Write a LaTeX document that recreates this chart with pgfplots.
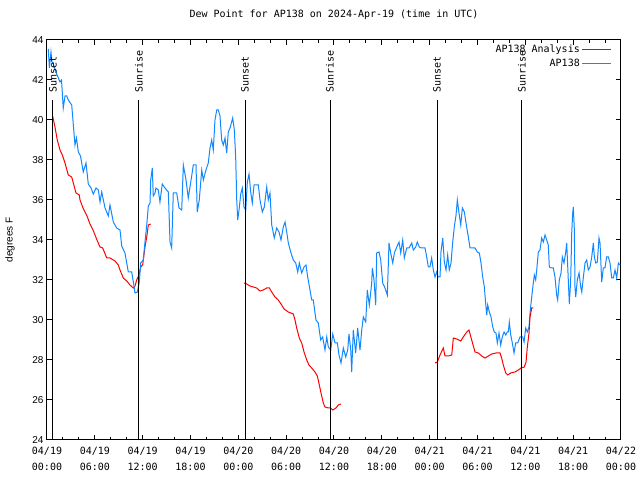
\documentclass[border=0pt]{standalone}
\usepackage{fontspec}
\usepackage{pgfplots}
\usepackage{pgfplotstable}
\pgfplotsset{compat=1.18}
\setmainfont{DejaVu Sans Mono}
\newfontfamily\lsans{Liberation Sans}
\definecolor{apblue}{RGB}{17,136,255}
\definecolor{apred}{RGB}{255,0,0}

\pgfplotstableread{
h v
0.16 43.55
0.30 42.60
0.50 43.40
0.63 42.90
0.79 42.80
1.22 42.30
1.63 41.90
1.82 42.00
2.04 40.60
2.26 41.20
2.47 41.20
2.67 41.00
3.10 40.75
3.51 38.75
3.70 39.10
3.93 38.40
4.20 38.20
4.55 37.40
4.89 37.85
5.18 36.80
5.52 36.60
5.81 36.30
6.15 36.60
6.44 36.50
6.65 35.90
6.86 36.40
7.28 35.60
7.69 35.20
7.90 35.75
8.32 34.90
8.74 34.60
9.16 34.50
9.37 33.70
9.78 33.35
10.20 32.40
10.62 32.40
10.83 31.90
11.04 31.35
11.33 31.40
11.58 31.90
11.75 32.85
12.08 33.00
12.29 33.90
12.51 34.75
12.71 35.70
12.92 35.85
13.01 37.00
13.21 37.60
13.33 36.20
13.55 36.35
13.67 36.60
13.96 36.50
14.17 35.90
14.46 36.80
14.80 36.60
15.22 36.40
15.43 33.90
15.64 33.60
15.84 36.35
16.27 36.35
16.56 35.60
16.90 35.50
17.10 37.75
17.44 37.00
17.72 36.10
18.15 37.20
18.35 37.75
18.69 37.75
18.85 35.40
19.10 36.00
19.41 37.50
19.61 37.00
19.94 37.50
20.23 37.85
20.45 38.60
20.66 39.00
20.86 38.50
21.07 40.00
21.29 40.50
21.49 40.50
21.70 40.20
21.91 39.00
22.12 38.75
22.33 39.10
22.54 38.35
22.74 39.40
22.96 39.60
23.29 40.10
23.50 39.50
23.67 38.10
23.80 36.00
23.92 35.00
24.09 35.50
24.30 36.30
24.50 36.60
24.71 35.65
24.93 35.50
25.13 36.90
25.34 37.30
25.55 36.40
25.75 35.85
25.97 36.75
26.51 36.75
26.72 36.00
27.01 35.40
27.26 35.65
27.56 36.65
27.76 36.00
27.97 36.35
28.19 34.75
28.51 34.10
28.81 34.60
29.10 34.40
29.35 34.00
29.64 34.65
29.86 34.90
30.07 34.40
30.27 33.85
30.61 33.35
30.90 33.00
31.20 32.85
31.45 32.40
31.65 32.85
31.95 32.35
32.24 32.65
32.49 32.75
32.70 32.15
32.99 31.50
33.20 31.00
33.40 31.00
33.74 30.00
34.03 29.85
34.33 29.00
34.58 29.15
34.87 28.50
35.09 29.15
35.29 28.65
35.59 28.50
35.84 29.30
36.13 28.85
36.42 28.85
36.63 28.25
36.88 27.85
37.17 28.60
37.47 28.15
37.72 28.50
37.88 29.30
38.10 28.50
38.22 27.40
38.42 29.50
38.72 28.35
38.97 29.60
39.26 28.50
39.48 29.50
39.68 30.15
39.98 29.90
40.18 31.50
40.43 30.75
40.73 31.85
40.81 32.60
41.02 32.00
41.23 30.75
41.36 33.35
41.65 33.40
41.86 33.00
42.11 31.85
42.40 31.60
42.69 31.25
42.90 33.85
43.11 33.35
43.37 32.85
43.57 33.35
43.87 33.65
44.16 33.90
44.37 33.35
44.62 34.00
44.82 33.10
45.12 33.60
45.41 33.60
45.75 33.85
45.95 33.50
46.25 33.65
46.45 33.90
46.70 33.65
47.00 33.60
47.42 33.60
47.63 33.15
47.83 32.65
48.04 32.65
48.25 33.10
48.46 32.50
48.67 32.15
48.88 32.40
49.08 32.15
49.30 32.15
49.42 33.40
49.64 34.10
49.84 32.90
50.05 32.50
50.26 33.25
50.46 32.50
50.68 32.85
50.89 33.90
51.09 34.65
51.31 35.25
51.47 36.00
51.68 35.35
51.90 34.75
52.10 35.60
52.35 35.40
52.56 34.85
52.85 34.15
53.06 33.60
53.69 33.60
53.98 33.40
54.23 33.35
54.44 32.85
54.65 32.15
54.86 31.65
55.03 30.80
55.16 30.25
55.28 30.75
55.48 30.40
55.70 30.15
55.91 29.65
56.11 29.40
56.32 29.35
56.49 28.85
56.70 29.35
56.91 28.75
57.11 29.15
57.33 29.40
57.54 29.25
57.74 29.40
57.87 29.40
57.99 29.90
58.17 29.25
58.37 28.85
58.58 28.35
58.79 28.85
59.04 28.85
59.33 29.15
59.67 29.15
59.84 28.90
60.05 29.60
60.25 29.40
60.46 29.65
60.59 30.35
60.80 31.15
61.00 31.85
61.13 32.25
61.30 32.00
61.43 32.50
61.63 33.40
61.84 33.50
62.05 34.10
62.26 33.90
62.47 34.25
62.68 34.00
62.88 33.75
63.01 32.65
63.31 32.60
63.51 32.60
63.72 32.15
63.93 31.25
64.06 31.00
64.26 32.00
64.48 32.35
64.64 33.15
64.85 32.85
65.07 33.40
65.19 33.85
65.39 32.00
65.52 30.80
65.69 32.00
65.82 34.35
65.94 35.35
66.02 35.65
66.15 34.50
66.23 31.65
66.32 31.15
66.52 32.00
66.74 32.35
66.95 31.65
67.08 31.40
67.28 32.15
67.49 32.85
67.70 33.00
67.90 32.50
68.12 32.65
68.33 33.15
68.53 33.85
68.66 33.15
68.83 32.85
69.03 32.90
69.24 34.10
69.37 33.85
69.58 31.90
69.78 32.60
69.99 32.60
70.20 33.15
70.41 33.15
70.62 32.85
70.84 32.10
71.04 32.10
71.25 32.50
71.46 32.10
71.67 32.85
71.88 32.75
}\bluedata

\pgfplotstableread{
h v
0.71 40.20
1.00 39.65
1.29 39.00
1.63 38.50
1.92 38.25
2.26 37.85
2.67 37.25
3.10 37.15
3.30 36.85
3.64 36.35
4.05 36.25
4.14 36.00
4.52 35.60
5.02 35.20
5.39 34.80
5.77 34.50
6.27 34.00
6.65 33.65
6.99 33.60
7.49 33.10
7.90 33.10
8.53 32.95
8.94 32.75
9.16 32.50
9.57 32.10
10.00 31.95
10.41 31.75
10.83 31.60
11.04 31.70
11.25 32.00
11.54 32.25
11.75 32.65
12.00 32.75
12.29 33.65
12.51 34.15
12.71 34.75
13.01 34.80
}\redA

\pgfplotstableread{
h v
24.71 31.85
25.05 31.80
25.46 31.70
25.88 31.65
26.30 31.60
26.72 31.45
27.13 31.50
27.56 31.60
27.89 31.60
28.19 31.40
28.60 31.15
29.01 31.00
29.44 30.75
29.73 30.55
30.27 30.40
30.90 30.30
31.11 30.00
31.32 29.60
31.65 29.10
31.95 28.85
32.24 28.40
32.58 28.00
32.86 27.75
33.20 27.60
33.62 27.40
33.91 27.20
34.16 26.75
34.37 26.35
34.66 25.85
34.87 25.65
35.29 25.60
35.59 25.60
35.84 25.50
36.25 25.60
36.54 25.75
36.88 25.80
}\redB

\pgfplotstableread{
h v
48.67 27.85
48.96 27.90
49.30 28.25
49.71 28.60
49.92 28.20
50.34 28.20
50.77 28.25
50.97 29.10
51.39 29.05
51.90 28.95
52.22 29.15
52.65 29.40
52.93 29.50
53.27 29.00
53.69 28.40
54.10 28.35
54.53 28.20
54.94 28.10
55.36 28.20
55.78 28.30
56.32 28.35
56.82 28.35
57.03 28.10
57.24 27.75
57.54 27.35
57.79 27.25
58.17 27.35
58.70 27.40
59.12 27.50
59.46 27.60
59.87 27.65
60.09 27.90
60.25 28.65
60.46 29.35
60.59 30.15
60.80 30.60
61.00 30.60
}\redC

\begin{document}
\begin{tikzpicture}
\useasboundingbox (-47bp,-40bp) rectangle (593bp,440bp);
\begin{axis}[
  at={(0bp,0bp)}, anchor=south west,
  width=574bp, height=400bp, scale only axis,
  xmin=0, xmax=72, ymin=24, ymax=44,
  xtick={0,6,...,72}, minor x tick num=2,
  ytick={24,26,...,44},
  tick align=inside, tick pos=both,
  xticklabel pos=left, yticklabel pos=left,
  major tick length=5bp, minor tick length=3bp,
  axis line style={line width=1bp},
  every tick/.style={black, line width=1bp},
  xticklabels={{04/19\\00:00},{04/19\\06:00},{04/19\\12:00},{04/19\\18:00},{04/20\\00:00},{04/20\\06:00},{04/20\\12:00},{04/20\\18:00},{04/21\\00:00},{04/21\\06:00},{04/21\\12:00},{04/21\\18:00},{04/22\\00:00}},
  xticklabel style={align=center, yshift=-4bp, font=\fontsize{10bp}{16bp}\selectfont},
  /pgf/number format/assume math mode=true,
  yticklabel style={font=\lsans\fontsize{10bp}{12bp}\selectfont},
  ylabel={degrees F},
  ylabel style={at={(axis description cs:-0.0645,0.5)}, anchor=center, font=\lsans\fontsize{10bp}{12bp}\selectfont},
  title={Dew Point for AP138 on 2024-Apr-19 (time in UTC)},
  title style={at={(axis description cs:0.5,1)}, anchor=base, yshift=17bp, inner sep=0pt, font=\fontsize{10bp}{12bp}\selectfont},
  legend style={at={(axis description cs:1,1)}, anchor=north east, xshift=-8bp, yshift=-2bp, draw=none, fill=none,
    font=\fontsize{10bp}{12bp}\selectfont, row sep=1bp, inner sep=1bp},
  legend cell align=right,
  legend plot pos=right,
  legend image code/.code={\draw[#1] (0bp,0bp) -- (29bp,0bp);},
]
\addplot[apred, line width=1bp] table[x=h,y=v] {\redA};
\addlegendentry{AP138 Analysis}
\addplot[apblue, line width=1bp] table[x=h,y=v] {\bluedata};
\addlegendentry{AP138}
\addplot[apred, line width=1bp, forget plot] table[x=h,y=v] {\redB};
\addplot[apred, line width=1bp, forget plot] table[x=h,y=v] {\redC};
\addplot[black, line width=1bp, forget plot] coordinates {(0.75,24) (0.75,41)};
\addplot[black, line width=1bp, forget plot] coordinates {(11.54,24) (11.54,41)};
\addplot[black, line width=1bp, forget plot] coordinates {(24.84,24) (24.84,41)};
\addplot[black, line width=1bp, forget plot] coordinates {(35.50,24) (35.50,41)};
\addplot[black, line width=1bp, forget plot] coordinates {(48.92,24) (48.92,41)};
\addplot[black, line width=1bp, forget plot] coordinates {(59.58,24) (59.58,41)};
\node[rotate=90, anchor=west, inner sep=0pt, font=\fontsize{10bp}{12bp}\selectfont] at (axis cs:0.75,41.35) {Sunset};
\node[rotate=90, anchor=west, inner sep=0pt, font=\fontsize{10bp}{12bp}\selectfont] at (axis cs:11.54,41.35) {Sunrise};
\node[rotate=90, anchor=west, inner sep=0pt, font=\fontsize{10bp}{12bp}\selectfont] at (axis cs:24.84,41.35) {Sunset};
\node[rotate=90, anchor=west, inner sep=0pt, font=\fontsize{10bp}{12bp}\selectfont] at (axis cs:35.50,41.35) {Sunrise};
\node[rotate=90, anchor=west, inner sep=0pt, font=\fontsize{10bp}{12bp}\selectfont] at (axis cs:48.92,41.35) {Sunset};
\node[rotate=90, anchor=west, inner sep=0pt, font=\fontsize{10bp}{12bp}\selectfont] at (axis cs:59.58,41.35) {Sunrise};
\end{axis}
\end{tikzpicture}
\end{document}
